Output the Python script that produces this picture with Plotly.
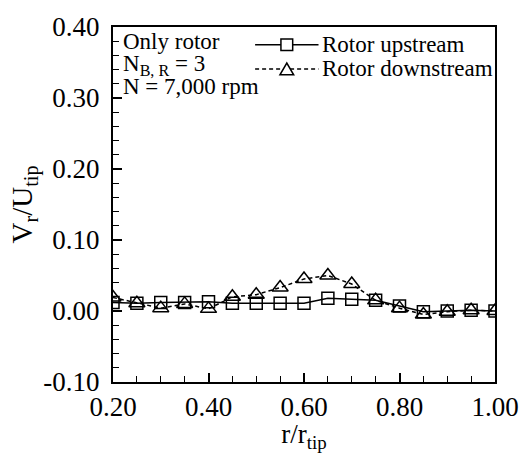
import plotly.graph_objects as go

r_ratio = [0.20, 0.25, 0.30, 0.35, 0.40, 0.45, 0.50, 0.55, 0.60, 0.65, 0.70, 0.75, 0.80, 0.85, 0.90, 0.95, 1.00]
upstream = [0.012, 0.011, 0.012, 0.012, 0.013, 0.011, 0.011, 0.011, 0.011, 0.018, 0.0165, 0.015, 0.007, -0.001, 0.000, 0.001, 0.000]
downstream = [0.019, 0.011, 0.004, 0.010, 0.003, 0.020, 0.023, 0.033, 0.045, 0.050, 0.038, 0.015, 0.004, -0.005, -0.001, 0.001, 0.000]
legend_names = ["Rotor upstream", "Rotor downstream"]
y_ticks = [-0.10, 0.00, 0.10, 0.20, 0.30, 0.40]
x_ticks = [0.20, 0.40, 0.60, 0.80, 1.00]

FONT = "Liberation Serif, Times New Roman, serif"

fig = go.Figure()
fig.add_trace(go.Scatter(
    x=r_ratio, y=upstream, mode="lines+markers", name=legend_names[0],
    line=dict(color="black", width=1.5),
    marker=dict(symbol="square-open", size=12, color="black", line=dict(width=1.5)),
    showlegend=False))
fig.add_trace(go.Scatter(
    x=r_ratio, y=downstream, mode="lines+markers", name=legend_names[1],
    line=dict(color="black", width=1.5, dash="4px,3px"),
    marker=dict(symbol="triangle-up-open", size=14, color="black", line=dict(width=1.5)),
    showlegend=False))

axis_common = dict(
    showline=True, linecolor="black", linewidth=2, mirror=True,
    ticks="inside", ticklen=9, tickwidth=1.5, tickcolor="black",
    showgrid=False, zeroline=False,
    tickfont=dict(family=FONT, size=27, color="black"),
)

fig.update_xaxes(range=[0.20, 1.00], tickvals=x_ticks,
                 ticktext=[f"{v:.2f}" for v in x_ticks],
                 minor=dict(dtick=0.05, ticks="inside", ticklen=6, tickwidth=1, tickcolor="black"),
                 title=dict(text="r/r<sub>tip</sub>", font=dict(family=FONT, size=27, color="black"), standoff=0),
                 **axis_common)
fig.update_yaxes(range=[-0.10, 0.40], tickvals=y_ticks,
                 ticktext=[f"{v:.2f}" for v in y_ticks],
                 ticklabelstandoff=6,
                 minor=dict(dtick=0.02, ticks="inside", ticklen=6, tickwidth=1, tickcolor="black"),
                 title=dict(text="V<sub>r</sub>/U<sub>tip</sub>", font=dict(family=FONT, size=29, color="black"), standoff=2),
                 **axis_common)

# Legend drawn manually (paper coordinates)
shapes = []
annotations = []
rows = [(0.950, "solid", "square"), (0.882, "4px,3px", "triangle")]
x0, x1, xm = 0.372, 0.538, 0.455
for (yy, dash, sym), name in zip(rows, legend_names):
    shapes.append(dict(type="line", xref="paper", yref="paper", x0=x0, x1=x1, y0=yy, y1=yy,
                       line=dict(color="black", width=1.5, dash=dash)))
    if sym == "square":
        dx, dy = 6/390, 6/363
        shapes.append(dict(type="rect", xref="paper", yref="paper", x0=xm-dx, x1=xm+dx,
                           y0=yy-dy, y1=yy+dy, fillcolor="white", line=dict(color="black", width=1.5)))
    else:
        dx, dy = 7/390, 6/363
        path = f"M {xm-dx},{yy-dy} L {xm+dx},{yy-dy} L {xm},{yy+dy} Z"
        shapes.append(dict(type="path", xref="paper", yref="paper", path=path,
                           fillcolor="white", line=dict(color="black", width=1.5)))
    annotations.append(dict(xref="paper", yref="paper", x=x1 + 0.003, y=yy, text=name,
                            showarrow=False, xanchor="left", yanchor="middle",
                            font=dict(family=FONT, size=23, color="black")))

info = ["Only rotor", "N<sub>B, R</sub> = 3", "N = 7,000 rpm"]
info_y = [0.960, 0.892, 0.833]
for t, yy in zip(info, info_y):
    annotations.append(dict(xref="paper", yref="paper", x=0.022, y=yy, text=t,
                            showarrow=False, xanchor="left", yanchor="middle",
                            font=dict(family=FONT, size=23, color="black")))

fig.update_layout(
    width=531, height=453,
    margin=dict(l=113, r=28, t=22, b=68),
    paper_bgcolor="white", plot_bgcolor="white",
    font=dict(family=FONT, color="black"),
    shapes=shapes, annotations=annotations,
    showlegend=False,
)

fig.write_html("out.html")
